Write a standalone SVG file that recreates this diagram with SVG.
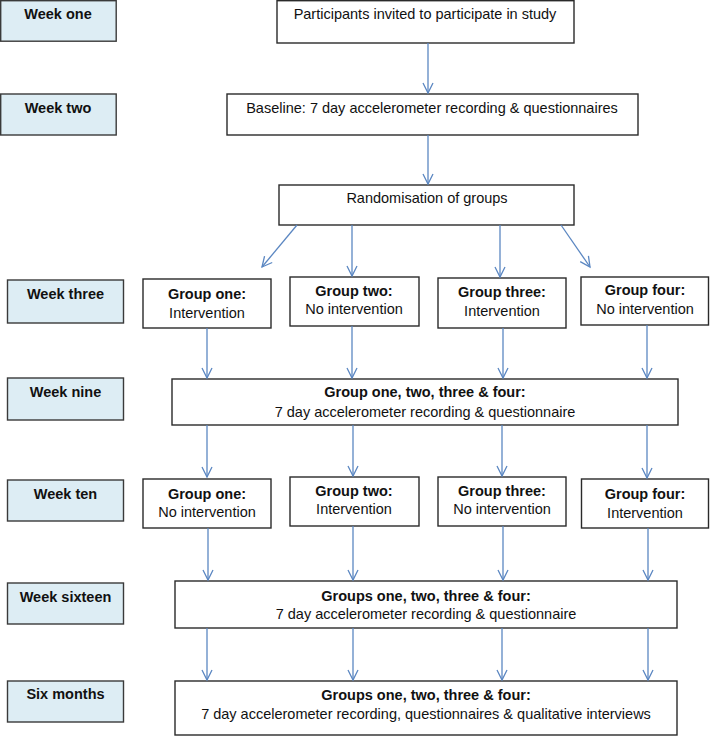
<svg xmlns="http://www.w3.org/2000/svg" width="710" height="736" viewBox="0 0 710 736">
<style>
.lbl{fill:#ddedf4;stroke:#3a3a3a;stroke-width:1.4}
.box{fill:#ffffff;stroke:#2a2a2a;stroke-width:1.4}
text{font-family:"Liberation Sans",Arial,Helvetica,sans-serif;font-size:14.5px;fill:#111;text-anchor:middle}
.b{font-weight:bold}
.arr{stroke:#5b87c2;stroke-width:1.3;fill:none;marker-end:url(#ah)}
</style>
<defs>
<marker id="ah" markerUnits="userSpaceOnUse" markerWidth="14" markerHeight="14" viewBox="-12 -7 14 14" refX="0" refY="0" orient="auto">
<path d="M-10,-5 L0,0 L-10,5" fill="none" stroke="#5b87c2" stroke-width="1.3"/>
</marker>
</defs>
<rect width="710" height="736" fill="#ffffff"/>

<g id="week-one"><rect class="lbl" x="0.7" y="0.7" width="115.5" height="40.5"/><text class="b" x="58" y="19">Week one</text></g>
<g id="week-two"><rect class="lbl" x="0.7" y="94" width="115.5" height="41"/><text class="b" x="58" y="113">Week two</text></g>
<g id="week-three"><rect class="lbl" x="7.5" y="280" width="116" height="43"/><text class="b" x="65.5" y="299">Week three</text></g>
<g id="week-nine"><rect class="lbl" x="7.5" y="378" width="116" height="42"/><text class="b" x="65.5" y="397">Week nine</text></g>
<g id="week-ten"><rect class="lbl" x="7.5" y="480" width="116" height="41"/><text class="b" x="65.5" y="499">Week ten</text></g>
<g id="week-sixteen"><rect class="lbl" x="7.5" y="583" width="116" height="41"/><text class="b" x="65.5" y="602">Week sixteen</text></g>
<g id="six-months"><rect class="lbl" x="7.5" y="681" width="116" height="41"/><text class="b" x="65.5" y="699">Six months</text></g>

<g id="invited"><rect class="box" x="277" y="0.7" width="297" height="42.3"/><text x="425" y="19">Participants invited to participate in study</text></g>
<g id="baseline"><rect class="box" x="227" y="94" width="411" height="41"/><text x="432" y="113">Baseline: 7 day accelerometer recording &amp; questionnaires</text></g>
<g id="randomisation"><rect class="box" x="279" y="185" width="295" height="40"/><text x="427" y="203">Randomisation of groups</text></g>

<g id="w3-g1"><rect class="box" x="143" y="279" width="128" height="49"/><text class="b" x="207" y="299">Group one:</text><text x="207" y="318">Intervention</text></g>
<g id="w3-g2"><rect class="box" x="290" y="277" width="129" height="49"/><text class="b" x="354" y="296">Group two:</text><text x="354" y="314">No intervention</text></g>
<g id="w3-g3"><rect class="box" x="438" y="278" width="128" height="50"/><text class="b" x="502" y="297">Group three:</text><text x="502" y="316">Intervention</text></g>
<g id="w3-g4"><rect class="box" x="581" y="277" width="127.5" height="48"/><text class="b" x="645" y="295">Group four:</text><text x="645" y="314">No intervention</text></g>

<g id="week-nine-all"><rect class="box" x="172" y="379" width="506" height="46"/><text class="b" x="425" y="397">Group one, two, three &amp; four:</text><text x="425" y="417">7 day accelerometer recording &amp; questionnaire</text></g>

<g id="w10-g1"><rect class="box" x="143" y="479" width="128" height="49"/><text class="b" x="207" y="499">Group one:</text><text x="207" y="517">No intervention</text></g>
<g id="w10-g2"><rect class="box" x="290" y="477" width="129" height="49"/><text class="b" x="354" y="496">Group two:</text><text x="354" y="514">Intervention</text></g>
<g id="w10-g3"><rect class="box" x="438" y="477" width="128" height="49"/><text class="b" x="502" y="496">Group three:</text><text x="502" y="514">No intervention</text></g>
<g id="w10-g4"><rect class="box" x="581.5" y="479" width="127" height="49"/><text class="b" x="645" y="499">Group four:</text><text x="645" y="518">Intervention</text></g>

<g id="week-sixteen-all"><rect class="box" x="175" y="581" width="502" height="47"/><text class="b" x="426" y="601">Groups one, two, three &amp; four:</text><text x="426" y="619">7 day accelerometer recording &amp; questionnaire</text></g>
<g id="six-months-all"><rect class="box" x="175" y="681" width="502" height="54"/><text class="b" x="426" y="700">Groups one, two, three &amp; four:</text><text x="426" y="719">7 day accelerometer recording, questionnaires &amp; qualitative interviews</text></g>

<g id="connectors">
<line class="arr" x1="428" y1="43" x2="428" y2="93"/>
<line class="arr" x1="428" y1="135" x2="428" y2="184"/>
<line class="arr" x1="297" y1="225" x2="262" y2="267"/>
<line class="arr" x1="352" y1="225" x2="352" y2="276"/>
<line class="arr" x1="500" y1="225" x2="500" y2="277"/>
<line class="arr" x1="561" y1="225" x2="590" y2="267"/>
<line class="arr" x1="207" y1="328" x2="207" y2="378"/>
<line class="arr" x1="352" y1="326" x2="352" y2="378"/>
<line class="arr" x1="503" y1="328" x2="503" y2="378"/>
<line class="arr" x1="647" y1="325" x2="647" y2="378"/>
<line class="arr" x1="207" y1="425" x2="207" y2="477"/>
<line class="arr" x1="353" y1="425" x2="353" y2="476"/>
<line class="arr" x1="502" y1="425" x2="502" y2="476"/>
<line class="arr" x1="647" y1="425" x2="647" y2="478"/>
<line class="arr" x1="208" y1="528" x2="208" y2="580"/>
<line class="arr" x1="353" y1="526" x2="353" y2="580"/>
<line class="arr" x1="503" y1="526" x2="503" y2="580"/>
<line class="arr" x1="648" y1="528" x2="648" y2="580"/>
<line class="arr" x1="207" y1="628" x2="207" y2="680"/>
<line class="arr" x1="353" y1="628" x2="353" y2="680"/>
<line class="arr" x1="502" y1="628" x2="502" y2="680"/>
<line class="arr" x1="648" y1="628" x2="648" y2="680"/>
</g>
</svg>
